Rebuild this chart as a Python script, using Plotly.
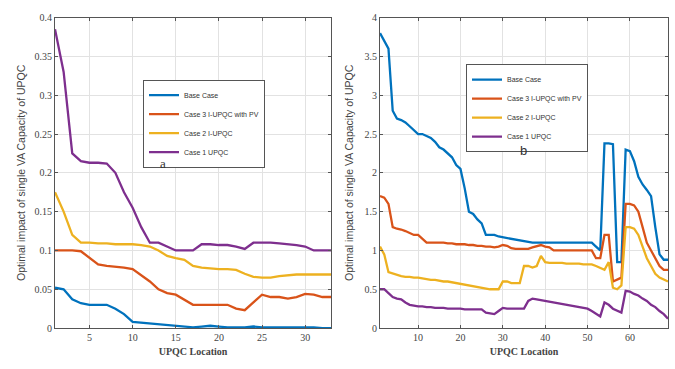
import plotly.graph_objects as go

names = ["Base Case", "Case 3 I-UPQC with PV", "Case 2 I-UPQC", "Case 1 UPQC"]
colors = ["#0072BD", "#D95319", "#EDB120", "#7E2F8E"]

# Panel a: 33-bus
xa = list(range(1, 34))
a_base = [0.052, 0.050, 0.037, 0.032, 0.030, 0.030, 0.030, 0.025, 0.018, 0.008, 0.007, 0.006,
          0.005, 0.004, 0.003, 0.002, 0.001, 0.002, 0.003, 0.002, 0.001, 0.001, 0.001, 0.002,
          0.001, 0.001, 0.001, 0.001, 0.001, 0.001, 0.001, 0.0, 0.0]
a_c3 = [0.100, 0.100, 0.100, 0.099, 0.090, 0.082, 0.080, 0.079, 0.078, 0.076, 0.068, 0.060,
        0.050, 0.045, 0.043, 0.037, 0.030, 0.030, 0.030, 0.030, 0.030, 0.025, 0.023, 0.033,
        0.043, 0.040, 0.040, 0.038, 0.040, 0.044, 0.043, 0.040, 0.040]
a_c2 = [0.175, 0.150, 0.120, 0.110, 0.110, 0.109, 0.109, 0.108, 0.108, 0.108, 0.107, 0.105,
        0.100, 0.093, 0.090, 0.088, 0.080, 0.078, 0.077, 0.076, 0.076, 0.075, 0.070, 0.066,
        0.065, 0.065, 0.067, 0.068, 0.069, 0.069, 0.069, 0.069, 0.069]
a_c1 = [0.385, 0.330, 0.225, 0.215, 0.213, 0.213, 0.212, 0.200, 0.175, 0.155, 0.130, 0.110,
        0.110, 0.105, 0.100, 0.100, 0.100, 0.108, 0.108, 0.107, 0.107, 0.105, 0.102, 0.110,
        0.110, 0.110, 0.109, 0.108, 0.107, 0.105, 0.100, 0.100, 0.100]

# Panel b: 69-bus
xb = list(range(1, 70))
b_base = [3.80, 3.70, 3.60, 2.80, 2.70, 2.68, 2.65, 2.60, 2.55, 2.50, 2.50, 2.48, 2.45, 2.40,
          2.33, 2.30, 2.25, 2.20, 2.10, 2.05, 1.80, 1.50, 1.47, 1.40, 1.35, 1.20, 1.20, 1.20,
          1.18, 1.17, 1.16, 1.15, 1.14, 1.13, 1.12, 1.11, 1.10, 1.10, 1.10, 1.10, 1.10, 1.10,
          1.10, 1.10, 1.10, 1.10, 1.10, 1.10, 1.10, 1.10, 1.10, 1.05, 1.00, 2.38, 2.38, 2.37,
          0.85, 0.85, 2.30, 2.28, 2.15, 1.95, 1.85, 1.78, 1.70, 1.30, 0.95, 0.88, 0.88]
b_c3 = [1.70, 1.68, 1.60, 1.30, 1.28, 1.27, 1.25, 1.22, 1.20, 1.20, 1.15, 1.10, 1.10, 1.10,
        1.10, 1.10, 1.09, 1.09, 1.08, 1.08, 1.08, 1.07, 1.07, 1.06, 1.06, 1.05, 1.05, 1.04,
        1.05, 1.07, 1.06, 1.03, 1.02, 1.02, 1.02, 1.02, 1.04, 1.06, 1.07, 1.05, 1.04, 1.00,
        1.00, 1.00, 1.00, 1.00, 1.00, 1.00, 1.00, 1.00, 1.00, 0.90, 0.90, 1.20, 1.20, 0.60,
        0.62, 0.65, 1.60, 1.60, 1.58, 1.50, 1.30, 1.10, 1.00, 0.90, 0.80, 0.75, 0.75]
b_c2 = [1.05, 0.95, 0.72, 0.70, 0.68, 0.67, 0.66, 0.66, 0.65, 0.65, 0.64, 0.63, 0.62, 0.62,
        0.61, 0.60, 0.60, 0.59, 0.58, 0.57, 0.56, 0.55, 0.54, 0.53, 0.52, 0.51, 0.50, 0.50,
        0.50, 0.60, 0.60, 0.58, 0.58, 0.58, 0.80, 0.80, 0.78, 0.80, 0.93, 0.85, 0.84, 0.84,
        0.84, 0.84, 0.83, 0.83, 0.83, 0.83, 0.82, 0.82, 0.82, 0.80, 0.78, 0.75, 0.85, 0.52,
        0.50, 0.55, 1.30, 1.30, 1.28, 1.20, 1.05, 0.90, 0.80, 0.70, 0.65, 0.63, 0.60]
b_c1 = [0.50, 0.50, 0.45, 0.40, 0.38, 0.37, 0.33, 0.30, 0.29, 0.28, 0.28, 0.27, 0.27, 0.26,
        0.26, 0.26, 0.25, 0.25, 0.25, 0.25, 0.24, 0.24, 0.24, 0.24, 0.24, 0.20, 0.19, 0.18,
        0.22, 0.26, 0.25, 0.25, 0.25, 0.25, 0.25, 0.35, 0.38, 0.37, 0.36, 0.35, 0.34, 0.33,
        0.32, 0.31, 0.30, 0.29, 0.28, 0.27, 0.26, 0.25, 0.22, 0.18, 0.15, 0.33, 0.30, 0.25,
        0.22, 0.20, 0.48, 0.47, 0.44, 0.42, 0.38, 0.35, 0.30, 0.27, 0.22, 0.18, 0.12]

fig = go.Figure()
for nm, c, y in zip(names, colors, [a_base, a_c3, a_c2, a_c1]):
    fig.add_trace(go.Scatter(x=xa, y=y, name=nm, mode="lines", line=dict(color=c, width=2.3),
                             xaxis="x", yaxis="y", legend="legend"))
for nm, c, y in zip(names, colors, [b_base, b_c3, b_c2, b_c1]):
    fig.add_trace(go.Scatter(x=xb, y=y, name=nm, mode="lines", line=dict(color=c, width=2.3),
                             xaxis="x2", yaxis="y2", legend="legend2"))

W, H = 675, 369
ydom = [1 - 333 / H, 1 - 13 / H]
axcommon = dict(showgrid=True, gridcolor="#e2e2e2", gridwidth=1, zeroline=False,
                showline=True, linecolor="#555", linewidth=1, mirror="ticks",
                ticks="inside", ticklen=3, tickcolor="#555",
                tickfont=dict(family="Liberation Serif", size=10, color="#444"))
xtitle = dict(text="<b>UPQC Location</b>", font=dict(family="Liberation Serif", size=10, color="#444"), standoff=5)
ytitle_font = dict(family="Liberation Sans", size=10.5, color="#444")
ylab = "Optimal impact of single VA Capacity of UPQC"

fig.update_layout(
    width=W, height=H, margin=dict(l=0, r=0, t=0, b=0),
    paper_bgcolor="white", plot_bgcolor="white",
    xaxis=dict(domain=[55 / W, 331 / W], range=[1, 33], tickvals=[5, 10, 15, 20, 25, 30],
               anchor="y", title=xtitle, **axcommon),
    yaxis=dict(domain=ydom, range=[0, 0.4], anchor="x",
               tickvals=[0, 0.05, 0.1, 0.15, 0.2, 0.25, 0.3, 0.35, 0.4],
               ticktext=["0", "0.05", "0.1", "0.15", "0.2", "0.25", "0.3", "0.35", "0.4"],
               title=dict(text=ylab, font=ytitle_font, standoff=6), **axcommon),
    xaxis2=dict(domain=[380 / W, 668 / W], range=[1, 69], tickvals=[10, 20, 30, 40, 50, 60],
                anchor="y2", title=xtitle, **axcommon),
    yaxis2=dict(domain=ydom, range=[0, 4], anchor="x2",
                tickvals=[0, 0.5, 1, 1.5, 2, 2.5, 3, 3.5, 4],
                ticktext=["0", "0.5", "1", "1.5", "2", "2.5", "3", "3.5", "4"],
                title=dict(text=ylab, font=ytitle_font, standoff=8), **axcommon),
    legend=dict(x=143 / W, y=1 - 77 / H, xanchor="left", yanchor="top",
                bgcolor="white", bordercolor="#555", borderwidth=1,
                font=dict(family="Liberation Sans Narrow, Liberation Sans", size=7, color="#333"),
                tracegroupgap=0, itemwidth=30),
    legend2=dict(x=466 / W, y=1 - 61 / H, xanchor="left", yanchor="top",
                 bgcolor="white", bordercolor="#555", borderwidth=1,
                 font=dict(family="Liberation Sans", size=7, color="#333"),
                 tracegroupgap=0, itemwidth=30),
    annotations=[
        dict(x=13.5, y=0.2125, xref="x", yref="y", text="a", showarrow=False,
             font=dict(family="Liberation Serif", size=13, color="#333")),
        dict(x=34.8, y=2.29, xref="x2", yref="y2", text="b", showarrow=False,
             font=dict(family="Liberation Sans", size=13, color="#333")),
    ],
)

fig.write_html("out.html")
